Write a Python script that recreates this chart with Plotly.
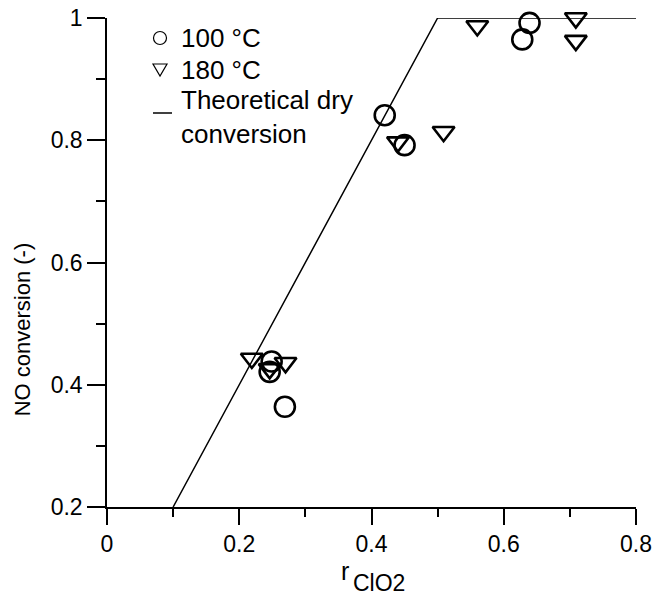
import plotly.graph_objects as go

# Data
c100_x = [0.42, 0.45, 0.249, 0.246, 0.269, 0.639, 0.628]
c100_y = [0.841, 0.792, 0.438, 0.421, 0.364, 0.992, 0.965]
t180_x = [0.219, 0.246, 0.27, 0.44, 0.509, 0.56, 0.709, 0.709]
t180_y = [0.443, 0.426, 0.436, 0.797, 0.814, 0.987, 1.0, 0.963]
theory_x = [0.1, 0.5, 0.8]
theory_y = [0.2, 1.0, 1.0]

x_ticks = [0, 0.2, 0.4, 0.6, 0.8]
y_ticks = [0.2, 0.4, 0.6, 0.8, 1.0]

legend_labels = ["100 °C", "180 °C", "Theoretical dry<br>conversion"]

FONT = "Liberation Sans, Arial, sans-serif"

W, H = 670, 596
ML, MR, MT, MB = 107, 34, 18, 89
PW, PH = W - ML - MR, H - MT - MB


def px(xp):
    return (xp - ML) / PW


def py(yp):
    return (H - MB - yp) / PH


fig = go.Figure()

# Theoretical line
fig.add_trace(go.Scatter(x=theory_x, y=theory_y, mode="lines",
                         line=dict(color="black", width=1.5),
                         showlegend=False, cliponaxis=False))
# 100 C circles
fig.add_trace(go.Scatter(x=c100_x, y=c100_y, mode="markers",
                         marker=dict(symbol="circle-open", size=20, color="black",
                                     line=dict(width=2.6, color="black")),
                         showlegend=False, cliponaxis=False))
# 180 C triangles
fig.add_trace(go.Scatter(x=t180_x, y=t180_y, mode="markers",
                         marker=dict(symbol="triangle-down-open", size=19, color="black",
                                     line=dict(width=2.6, color="black")),
                         showlegend=False, cliponaxis=False))

axis_common = dict(
    showline=True, linecolor="black", linewidth=1.5,
    ticks="outside", tickcolor="black", tickwidth=1.5,
    showgrid=False, zeroline=False, mirror=False, automargin=False,
    tickfont=dict(family=FONT, size=23, color="black"),
)

fig.update_xaxes(range=[0, 0.8], tickvals=x_ticks,
                 ticktext=["0", "0.2", "0.4", "0.6", "0.8"],
                 ticklen=16,
                 minor=dict(dtick=0.1, ticks="outside", ticklen=8,
                            tickcolor="black", tickwidth=1.5, showgrid=False),
                 **axis_common)
fig.update_yaxes(range=[0.2, 1.0], tickvals=y_ticks,
                 ticktext=["0.2", "0.4", "0.6", "0.8", "1"],
                 ticklen=18,
                 minor=dict(dtick=0.1, ticks="outside", ticklen=9,
                            tickcolor="black", tickwidth=1.5, showgrid=False),
                 **axis_common)

# Manual legend (text + small symbols)
leg_text_x = 180
leg_rows_y = [38, 70, 116.5]
annotations = []
for lab, ry in zip(legend_labels, leg_rows_y):
    annotations.append(dict(text=lab, xref="paper", yref="paper", align="left",
                            x=px(leg_text_x), y=py(ry), xanchor="left", yanchor="middle",
                            showarrow=False, borderpad=0,
                            font=dict(family=FONT, size=26, color="black")))

sx = 160
shapes = [
    # circle symbol
    dict(type="circle", xref="paper", yref="paper",
         x0=px(sx - 6.5), x1=px(sx + 6.5), y0=py(38 + 6.5), y1=py(38 - 6.5),
         line=dict(color="black", width=1.2)),
    # triangle-down symbol
    dict(type="path", xref="paper", yref="paper",
         path=f"M {px(sx - 7)} {py(64)} L {px(sx + 7)} {py(64)} L {px(sx)} {py(76)} Z",
         line=dict(color="black", width=1.2)),
    # line symbol
    dict(type="line", xref="paper", yref="paper",
         x0=px(153), x1=px(172), y0=py(113), y1=py(113),
         line=dict(color="black", width=1.5)),
]

annotations += [
    dict(text="NO conversion (-)", textangle=-90, xref="paper", yref="paper",
         x=-0.16, y=0.364, xanchor="center", yanchor="middle", showarrow=False,
         font=dict(family=FONT, size=22, color="black")),
    dict(text="r", xref="paper", yref="paper", x=0.462, y=-0.131,
         xanchor="right", yanchor="middle", showarrow=False,
         font=dict(family=FONT, size=25, color="black")),
    dict(text="ClO2", xref="paper", yref="paper", x=0.462, y=-0.156,
         xanchor="left", yanchor="middle", showarrow=False,
         font=dict(family=FONT, size=23, color="black")),
]

fig.update_layout(
    width=W, height=H,
    margin=dict(l=ML, r=MR, t=MT, b=MB),
    plot_bgcolor="white", paper_bgcolor="white",
    font=dict(family=FONT, size=23, color="black"),
    showlegend=False,
    annotations=annotations,
    shapes=shapes,
)

fig.write_html("out.html", config={"displayModeBar": False},
               post_script="document.body.style.margin='0px';")
